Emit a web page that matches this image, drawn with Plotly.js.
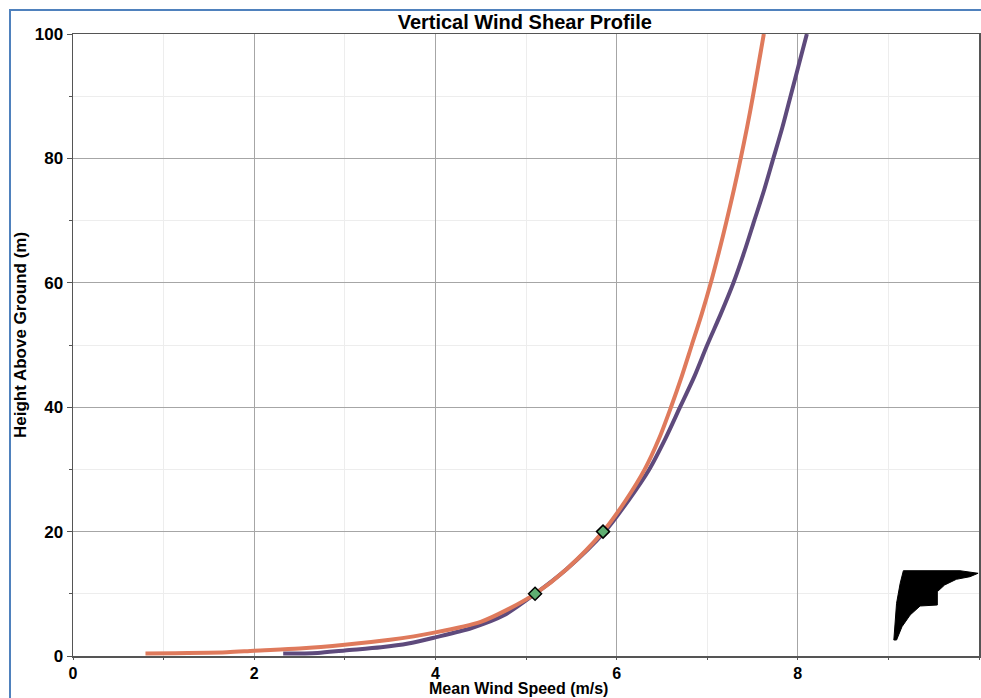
<!DOCTYPE html>
<html>
<head>
<meta charset="utf-8">
<script src="https://cdn.plot.ly/plotly-3.0.1.min.js"></script>
<style>
  html, body { margin: 0; padding: 0; background: #fff; }
  #wrap { position: relative; width: 981px; height: 698px; overflow: hidden; }
  #chart { position: absolute; left: 0; top: 0; width: 981px; height: 698px; }
  #frame { position: absolute; left: 9px; top: 9px; width: 1000px; height: 800px;
           border-left: 2px solid #4F81BD; border-top: 2px solid #4F81BD; pointer-events: none; }
</style>
</head>
<body>
<div id="wrap">
  <div id="chart"></div>
  <div id="frame"></div>
</div>
<script>
// Log-law style profile (orange): height (m) and speed (m/s)
const logHeights = [0.4, 0.6, 0.85, 1.2, 1.8, 2.6, 3.8, 5.5, 7.5, 10, 14, 20, 25, 30, 35, 40, 45, 50, 55, 60, 65, 70, 75, 80, 85, 90, 95, 100];
const logSpeeds  = [0.8, 1.7, 2.0, 2.5, 3.0, 3.5, 4.0, 4.5, 4.8, 5.1, 5.45, 5.85, 6.1, 6.31, 6.47, 6.60, 6.72, 6.83, 6.94, 7.04, 7.13, 7.215, 7.295, 7.37, 7.44, 7.505, 7.565, 7.625];

// Power-law style profile (purple)
const powHeights = [0.4, 0.5, 0.9, 1.4, 2.0, 3.0, 4.5, 6.5, 10, 14, 20, 25, 30, 35, 40, 45, 50, 55, 60, 65, 70, 75, 80, 85, 90, 95, 100];
const powSpeeds  = [2.32, 2.7, 3.0, 3.4, 3.7, 4.0, 4.4, 4.75, 5.1, 5.45, 5.87, 6.13, 6.36, 6.54, 6.70, 6.86, 7.00, 7.15, 7.29, 7.41, 7.52, 7.63, 7.73, 7.83, 7.92, 8.01, 8.10];

// Measured points (green diamonds)
const measHeights = [10, 20];
const measSpeeds  = [5.1, 5.85];

// Black blot in lower right corner of the picture
const blotX = [9.165, 9.79, 9.99, 9.90, 9.75, 9.62, 9.54, 9.54, 9.35, 9.24, 9.15, 9.09, 9.06, 9.09, 9.13, 9.165];
const blotY = [13.71, 13.71, 13.3, 12.75, 12.33, 11.41, 10.34, 8.2, 8.04, 6.59, 4.71, 2.57, 2.57, 8.47, 11.69, 13.71];

// Text
const chartTitle = 'Vertical Wind Shear Profile';
const xTitle = 'Mean Wind Speed (m/s)';
const yTitle = 'Height Above Ground (m)';

const FONT = '"Liberation Sans", Arial, sans-serif';

const traces = [
  { x: blotX, y: blotY, type: 'scatter', mode: 'lines', fill: 'toself',
    fillcolor: '#000', line: { color: '#000', width: 1 }, hoverinfo: 'skip', showlegend: false },
  { x: powSpeeds, y: powHeights, type: 'scatter', mode: 'lines',
    line: { color: '#5E4A7C', width: 4, shape: 'spline', smoothing: 0.8 }, showlegend: false },
  { x: logSpeeds, y: logHeights, type: 'scatter', mode: 'lines',
    line: { color: '#DF7A5C', width: 4, shape: 'spline', smoothing: 0.8 }, showlegend: false },
  { x: measSpeeds, y: measHeights, type: 'scatter', mode: 'markers',
    marker: { symbol: 'diamond', size: 10, color: '#5FAE72', line: { color: '#000', width: 1.5 } },
    showlegend: false }
];

const axisCommon = {
  showline: true, linecolor: '#555', linewidth: 1.5, mirror: true,
  showgrid: true, gridcolor: '#A6A6A6', gridwidth: 1,
  zeroline: false,
  ticks: 'outside', tickcolor: '#555', tickwidth: 1,
  fixedrange: true
};

const titleFont = { family: FONT, size: 17, color: '#000', weight: 'bold' };

const layout = {
  width: 981, height: 698,
  margin: { l: 73, r: 2, t: 34, b: 42 },
  paper_bgcolor: 'rgba(0,0,0,0)', plot_bgcolor: '#fff',
  title: { text: chartTitle, x: 0.535, xanchor: 'center', y: 0.969, yanchor: 'middle',
           font: { family: FONT, size: 20, color: '#000', weight: 'bold' } },
  xaxis: Object.assign({}, axisCommon, {
    range: [0, 10], dtick: 2, tick0: 0, ticklen: 2,
    tickfont: { family: FONT, size: 16, color: '#000', weight: 'bold' },
    minor: { dtick: 1, showgrid: true, gridcolor: '#EDEDED', ticks: 'outside', ticklen: 2, tickcolor: '#555' }
  }),
  yaxis: Object.assign({}, axisCommon, {
    range: [0, 100], dtick: 20, tick0: 0, ticklen: 5,
    tickfont: { family: FONT, size: 17, color: '#000', weight: 'bold' },
    minor: { dtick: 10, showgrid: true, gridcolor: '#EDEDED', ticks: 'outside', ticklen: 3, tickcolor: '#555' }
  }),
  annotations: [
    { text: xTitle, xref: 'paper', yref: 'paper', x: 0.492, y: -0.0515,
      xanchor: 'center', yanchor: 'middle', showarrow: false,
      font: { family: FONT, size: 16, color: '#000', weight: 'bold' } },
    { text: yTitle, xref: 'paper', yref: 'paper', x: -0.0585, y: 0.516, textangle: -90,
      xanchor: 'center', yanchor: 'middle', showarrow: false, font: titleFont }
  ]
};

Plotly.newPlot('chart', traces, layout, { displayModeBar: false, staticPlot: true });
</script>
</body>
</html>
